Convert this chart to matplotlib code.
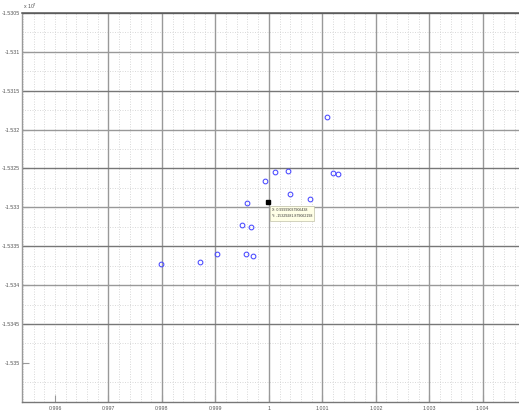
import numpy as np
import matplotlib
matplotlib.use("Agg")
import matplotlib.pyplot as plt
from matplotlib import font_manager

# Measured samples (x normalised, y raw)
x_vals = [0.997989, 0.998718, 0.999036, 0.999495, 0.999570, 0.999583,
          0.999664, 0.999708, 0.999920, 1.000112, 1.000363, 1.000393,
          1.000766, 1.001092, 1.001204, 1.001297]
y_vals = [-15337330, -15337030, -15336000, -15332310, -15336000, -15329450,
          -15332490, -15336260, -15326660, -15325500, -15325370, -15328290,
          -15328970, -15318350, -15325590, -15325760]

# Data tip
tip_x = 0.99999037906438
tip_y = -15329281.879062198

x_ticks = [0.996, 0.997, 0.998, 0.999, 1.0, 1.001, 1.002, 1.003, 1.004]
x_tick_labels = ["0.996", "0.997", "0.998", "0.999", "1", "1.001", "1.002", "1.003", "1.004"]
y_ticks = [-1.5305, -1.531, -1.5315, -1.532, -1.5325, -1.533, -1.5335, -1.534, -1.5345, -1.535]
y_tick_labels = ["-1.5305", "-1.531", "-1.5315", "-1.532", "-1.5325", "-1.533",
                 "-1.5335", "-1.534", "-1.5345", "-1.535"]
scale = 1e7

names = {f.name for f in font_manager.fontManager.ttflist}
fam = "Liberation Sans Narrow" if "Liberation Sans Narrow" in names else "Liberation Sans"
plt.rcParams["font.family"] = [fam, "DejaVu Sans"]

W, H = 519, 413
fig = plt.figure(figsize=(W / 100, H / 100), dpi=100)
ax = fig.add_axes([22 / W, (H - 401.7) / H, 1 - 22 / W, (401.7 - 13) / H])

xlim = (0.995383, 1.004679)
ylim = (-1.5355, -1.5305)
ax.set_xlim(*xlim)
ax.set_ylim(*ylim)

# minor dotted grid
for xv in np.arange(0.9954, 1.00468, 0.0002):
    ax.axvline(xv, color="#d4d4d4", lw=0.6, ls=(0, (1.2, 1.8)), zorder=1)
for yv in np.arange(-1.53525, -1.5305, 0.0005):
    ax.axhline(yv, color="#d4d4d4", lw=0.6, ls=(0, (1.2, 1.8)), zorder=1)

# major solid grid
for xv in x_ticks[1:]:
    ax.axvline(xv, color="#999999", lw=1.0, zorder=2)
for i, yv in enumerate(y_ticks[:-1]):
    ax.axhline(yv, color="#999999" if i % 2 else "#777777", lw=1.0, zorder=2)

ax.plot(x_vals, np.array(y_vals) / scale, ls="none", marker="o", ms=3.4,
        mfc="none", mec="#4848ff", mew=0.75, zorder=4)

# data tip marker and box
ax.plot([tip_x], [tip_y / scale], marker="s", ms=3.3, color="black", zorder=5)
ax.annotate(f"X: {tip_x:.14f}\nY: {tip_y:.9f}", xy=(tip_x, tip_y / scale),
            xytext=(2.5, -4.5), textcoords="offset points", ha="left", va="top",
            fontsize=2.6, color="#333333", linespacing=1.8, zorder=6,
            bbox=dict(boxstyle="square,pad=0.6", fc="#ffffe6", ec="#c0c0a8", lw=0.5))

ax.set_xticks(x_ticks)
ax.set_xticklabels(x_tick_labels)
ax.set_yticks(y_ticks)
ax.set_yticklabels(y_tick_labels)
ax.tick_params(axis="both", direction="in", length=5, width=0.8, color="#999999",
               labelsize=3.8, labelcolor="#555555", pad=3)
ax.tick_params(axis="y", pad=1.2)

ax.spines["right"].set_visible(False)
ax.spines["top"].set_color("#555555")
ax.spines["top"].set_linewidth(1.1)
ax.spines["left"].set_color("#999999")
ax.spines["bottom"].set_color("#777777")
ax.spines["left"].set_linewidth(1.0)
ax.spines["bottom"].set_linewidth(1.0)

fig.text(23 / W, 1 - 6 / H, r"x 10$^7$", fontsize=3.8, color="#555555",
         ha="left", va="center")

fig.savefig("out.png", dpi=100, facecolor="white")
